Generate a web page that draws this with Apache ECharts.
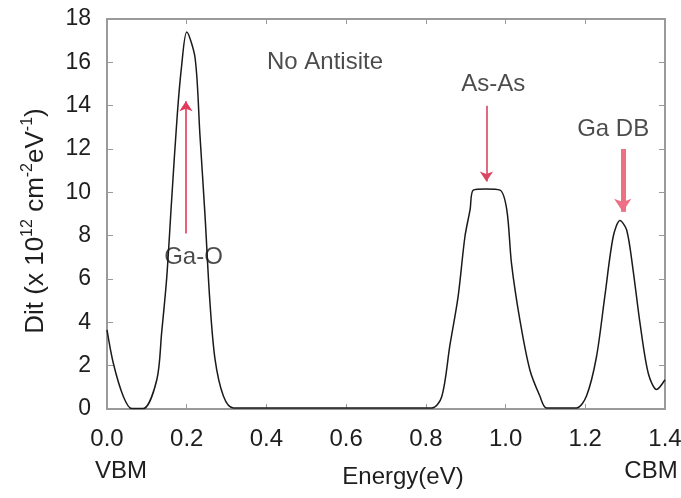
<!DOCTYPE html>
<html>
<head>
<meta charset="utf-8">
<script src="https://cdn.jsdelivr.net/npm/echarts@6/dist/echarts.min.js"></script>
<style>
  html, body { margin: 0; padding: 0; background: #fff; }
  #chart { width: 681px; height: 498px; }
</style>
</head>
<body>
<div id="chart"></div>
<script>
// energy (eV) and Dit (x 10^12 cm^-2 eV^-1)
const energy = [0, 0.016, 0.041, 0.062, 0.091, 0.125, 0.137, 0.15, 0.162, 0.176, 0.187, 0.2, 0.221, 0.233, 0.246, 0.258, 0.271, 0.292, 0.317,
  0.815, 0.84, 0.86, 0.881, 0.898, 0.911, 0.919, 0.95, 0.986, 1.003, 1.015, 1.036, 1.061, 1.086, 1.103, 1.178,
  1.203, 1.228, 1.249, 1.27, 1.287, 1.304, 1.32, 1.337, 1.358, 1.379, 1.4]
const dit = [3.65, 2.1, 0.58, 0.02, 0.02, 1.35, 3.5, 6.1, 9.6, 13.5, 15.8, 17.4, 16.2, 12.7, 8.9, 5.0, 2.3, 0.6, 0.05,
  0.05, 0.58, 2.9, 5.2, 7.95, 9.2, 10.1, 10.15, 10.1, 9.2, 6.7, 4.1, 1.8, 0.6, 0.05, 0.05,
  0.6, 2.4, 5.2, 7.95, 8.7, 8.25, 6.4, 4.0, 1.65, 0.9, 1.35]

const xTicks = [0, 0.2, 0.4, 0.6, 0.8, 1.0, 1.2, 1.4]
const yTicks = [0, 2, 4, 6, 8, 10, 12, 14, 16, 18]

// annotations
const noteText = ['No Antisite', 'Ga-O', 'As-As', 'Ga DB']
const noteX = [0.547, 0.217, 0.969, 1.27]
const noteY = [16.0, 7.0, 15.0, 12.9]
const arrowX = [0.198, 0.952, 1.294]
const arrowFrom = [8.1, 14.0, 12.0]
const arrowTo = [14.2, 10.5, 9.1]

const font = 'Liberation Sans, Arial, sans-serif'
const frame = '#9a9a9a'
const ink = '#1e1e1e'

let mychart = echarts.init(document.getElementById('chart'))

const arrowStyles = [
  { color: '#e23a5c', width: 1.6, size: 10 },
  { color: '#d9465f', width: 1.6, size: 10 },
  { color: '#ee7085', width: 5, size: 13 },
]

// frame axes on top / right: line + inward ticks only
const frameAxis = (pos, tickLen) => ({
  type: 'value',
  position: pos,
  splitLine: { show: false },
  axisLine: { show: true, onZero: false, lineStyle: { color: frame, width: 2 } },
  axisTick: { show: true, inside: true, length: tickLen, lineStyle: { color: frame } },
  axisLabel: { show: false },
})

mychart.setOption({
  animation: false,
  grid: { left: 107, right: 16, top: 19, bottom: 89, outerBoundsMode: 'none', containLabel: false },
  xAxis: [
    {
      type: 'value',
      min: xTicks[0],
      max: xTicks[xTicks.length - 1],
      interval: 0.2,
      position: 'bottom',
      name: 'Energy(eV)',
      nameLocation: 'middle',
      nameGap: 56,
      nameMoveOverlap: false,
      nameTextStyle: { fontFamily: font, fontSize: 24, color: ink, padding: [0, 0, 0, 34] },
      splitLine: { show: false },
      axisLine: { show: true, onZero: false, lineStyle: { color: frame, width: 2 } },
      axisTick: { show: true, inside: true, length: 5, lineStyle: { color: frame } },
      axisLabel: {
        margin: 14,
        fontFamily: font,
        fontSize: 24,
        color: ink,
        lineHeight: 32,
        formatter: function (v) {
          let s = v.toFixed(1)
          if (v === 0) return s + '\n{vbm|VBM}'
          if (Math.abs(v - 1.4) < 1e-6) return s + '\n{cbm|CBM}'
          return s
        },
        rich: {
          vbm: { fontFamily: font, fontSize: 24, color: ink, padding: [0, 0, 0, 28] },
          cbm: { fontFamily: font, fontSize: 24, color: ink, padding: [0, 28, 0, 0] },
        },
      },
    },
    Object.assign(frameAxis('top', 5), { min: xTicks[0], max: xTicks[xTicks.length - 1], interval: 0.2 }),
  ],
  yAxis: [
    {
      type: 'value',
      min: yTicks[0],
      max: yTicks[yTicks.length - 1],
      interval: 2,
      position: 'left',
      name: 'Dit (x 10{sup|12} cm{sup|-2}eV{sup|-1})',
      nameLocation: 'middle',
      nameRotate: 90,
      nameGap: 56,
      nameMoveOverlap: false,
      nameTextStyle: {
        fontFamily: font,
        fontSize: 26,
        color: ink,
        lineHeight: 31,
        padding: [0, 14, 0, 0],
        rich: {
          sup: { fontFamily: font, fontSize: 16, color: ink, verticalAlign: 'top', lineHeight: 31 },
        },
      },
      splitLine: { show: false },
      axisLine: { show: true, onZero: false, lineStyle: { color: frame, width: 2 } },
      axisTick: { show: true, inside: true, length: 6, lineStyle: { color: frame } },
      axisLabel: { margin: 16, fontFamily: font, fontSize: 23, color: ink },
    },
    Object.assign(frameAxis('right', 6), { min: yTicks[0], max: yTicks[yTicks.length - 1], interval: 2 }),
  ],
  series: [
    {
      type: 'line',
      data: energy.map((e, i) => [e, dit[i]]),
      showSymbol: false,
      smooth: 0.3,
      clip: true,
      lineStyle: { color: '#1a1a1a', width: 1.5 },
      silent: true,
      markLine: {
        silent: true,
        symbol: ['none', 'arrow'],
        label: { show: false },
        data: arrowX.map((x, i) => [
          {
            coord: [x, arrowFrom[i]],
            symbol: 'none',
            lineStyle: { color: arrowStyles[i].color, width: arrowStyles[i].width, type: 'solid' },
          },
          { coord: [x, arrowTo[i]], symbol: 'arrow', symbolSize: arrowStyles[i].size },
        ]),
      },
    },
    {
      type: 'scatter',
      symbolSize: 0,
      silent: true,
      data: noteText.map((t, i) => ({ name: t, value: [noteX[i], noteY[i]] })),
      label: {
        show: true,
        position: 'inside',
        formatter: '{b}',
        fontFamily: font,
        fontSize: 24,
        color: ink,
      },
    },
  ],
})
</script>
</body>
</html>
